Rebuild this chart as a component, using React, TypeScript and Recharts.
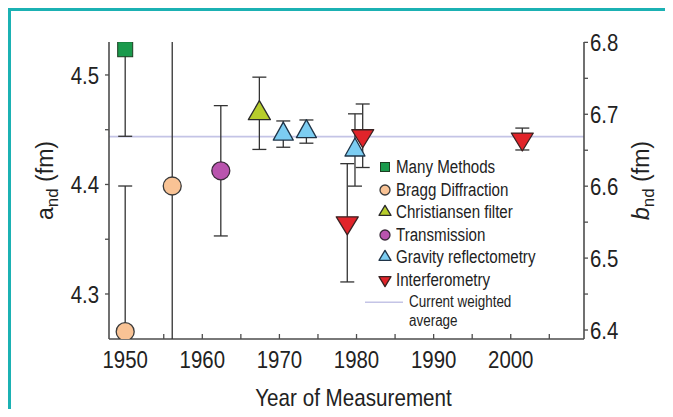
import React from 'react';
import { ComposedChart, Scatter, XAxis, YAxis, ErrorBar, ReferenceLine, Legend } from 'recharts';

const FONT = '"Liberation Sans", Arial, Helvetica, sans-serif';
const INK = '#222';
const AXIS = '#4d4d4d';
const TEAL = '#1bb1b3';

// measurements: year, a_nd (fm), [lower error, upper error]
const manyMethods = [{ year: 1950, a: 4.5235, err: [0.0795, 0.08] }];
const braggDiffraction = [
  { year: 1950, a: 4.2656, err: [0.2, 0.133] },
  { year: 1956.1, a: 4.3986, err: [0.2, 0.2] },
];
const christiansenFilter = [{ year: 1967.4, a: 4.465, err: [0.033, 0.033] }];
const transmission = [{ year: 1962.4, a: 4.4125, err: [0.0595, 0.0595] }];
const gravityReflectometry = [
  { year: 1970.5, a: 4.446, err: [0.012, 0.012] },
  { year: 1973.5, a: 4.4483, err: [0.0106, 0.0106] },
  { year: 1979.8, a: 4.4315, err: [0.033, 0.033] },
];
const interferometry = [
  { year: 1978.8, a: 4.365, err: [0.054, 0.054] },
  { year: 1980.8, a: 4.4445, err: [0.029, 0.029] },
  { year: 2001.5, a: 4.4415, err: [0.01, 0.01] },
];
const weightedAverage = 4.4437;

const yearDomain = [1947.9, 2009.5];
const yearTicks = [1950, 1955, 1960, 1965, 1970, 1975, 1980, 1985, 1990, 1995, 2000, 2005];
const aDomain = [4.2589, 4.5301];
const aTicks = [4.3, 4.35, 4.4, 4.45, 4.5];
const bDomain = [6.3875, 6.8005];
const bTicks = [6.4, 6.45, 6.5, 6.55, 6.6, 6.65, 6.7, 6.75, 6.8];

// plot box inside the svg (for clipping the error bars)
const PLOT = { x: 98, y: 31, w: 475, h: 297 };

type Kind = 'square' | 'circle' | 'up' | 'down';

function Marker({ cx, cy, kind, w, h, fill, stroke }: any) {
  if (kind === 'square') {
    return <rect x={cx - w / 2} y={cy - w / 2} width={w} height={w} fill={fill} stroke={stroke} strokeWidth={1} />;
  }
  if (kind === 'circle') {
    return <circle cx={cx} cy={cy} r={w / 2} fill={fill} stroke={stroke} strokeWidth={1.3} />;
  }
  if (kind === 'up') {
    const pts = `${cx},${cy - (2 * h) / 3} ${cx + w / 2},${cy + h / 3} ${cx - w / 2},${cy + h / 3}`;
    return <polygon points={pts} fill={fill} stroke={stroke} strokeWidth={1.3} strokeLinejoin="round" />;
  }
  const pts = `${cx - w / 2},${cy - h / 3} ${cx + w / 2},${cy - h / 3} ${cx},${cy + (2 * h) / 3}`;
  return <polygon points={pts} fill={fill} stroke={stroke} strokeWidth={1.3} strokeLinejoin="round" />;
}

const series = [
  { name: 'Many Methods', data: manyMethods, kind: 'square' as Kind, fill: '#1a9a4c', stroke: '#1d3d22', w: 15, h: 15, lw: 9, lh: 9 },
  { name: 'Bragg Diffraction', data: braggDiffraction, kind: 'circle' as Kind, fill: '#f9c395', stroke: '#3a3a3a', w: 18, h: 18, lw: 10, lh: 10 },
  { name: 'Christiansen filter', data: christiansenFilter, kind: 'up' as Kind, fill: '#b7cd2c', stroke: '#2a2a2a', w: 22, h: 19, lw: 12, lh: 10 },
  { name: 'Transmission', data: transmission, kind: 'circle' as Kind, fill: '#b954ae', stroke: '#3a2a3a', w: 18, h: 18, lw: 10, lh: 10 },
  { name: 'Gravity reflectometry', data: gravityReflectometry, kind: 'up' as Kind, fill: '#7ccdf2', stroke: '#1f3448', w: 20, h: 18, lw: 12, lh: 10 },
  { name: 'Interferometry', data: interferometry, kind: 'down' as Kind, fill: '#e1242a', stroke: '#3a2222', w: 22, h: 18, lw: 12, lh: 10 },
];

function NText({ x, y, size, sx, anchor, children }: any) {
  return (
    <text transform={`translate(${x},${y}) scale(${sx},1)`} textAnchor={anchor} fontSize={size} fontFamily={FONT} fill={INK}>
      {children}
    </text>
  );
}

const isMajor = (v: number, step: number) => Math.abs(v / step - Math.round(v / step)) < 1e-6;

const XTick = (p: any) => {
  if (!isMajor(p.payload.value, 10)) return <g />;
  return <NText x={p.x} y={p.y + 29} size={24} sx={0.85} anchor="middle">{p.payload.value}</NText>;
};
const LeftTick = (p: any) => {
  if (!isMajor(p.payload.value, 0.1)) return <g />;
  return <NText x={p.x} y={p.y + 8.6} size={24} sx={0.85} anchor="end">{p.payload.value.toFixed(1)}</NText>;
};
const RightTick = (p: any) => {
  if (!isMajor(p.payload.value, 0.1)) return <g />;
  return <NText x={p.x} y={p.y + 8.6} size={24} sx={0.85} anchor="start">{p.payload.value.toFixed(1)}</NText>;
};

const xTitle = (p: any) => {
  const vb = p.viewBox || { x: PLOT.x, y: PLOT.y + PLOT.h, width: PLOT.w, height: 78 };
  return (
    <NText x={vb.x + vb.width / 2 + 7} y={vb.y + 67} size={24} sx={0.86} anchor="middle">
      Year of Measurement
    </NText>
  );
};

function RotTitle({ cx, cy, letter, italic }: any) {
  return (
    <text transform={`translate(${cx},${cy}) rotate(-90)`} y={8} textAnchor="middle" fontSize={23} fontFamily={FONT} fill={INK}>
      <tspan fontStyle={italic ? 'italic' : 'normal'}>{letter}</tspan>
      <tspan fontSize={17} dy={5}>nd</tspan>
      <tspan dy={-5}> (fm)</tspan>
    </text>
  );
}

const leftTitle = (p: any) => {
  const vb = p.viewBox || { x: 0, y: PLOT.y, width: PLOT.x, height: PLOT.h };
  return <RotTitle cx={vb.x + 34} cy={vb.y + vb.height / 2 - 10} letter="a" />;
};
const rightTitle = (p: any) => {
  const vb = p.viewBox || { x: PLOT.x + PLOT.w, y: PLOT.y, width: 89, height: PLOT.h };
  return <RotTitle cx={vb.x + 57} cy={vb.y + vb.height / 2 - 10} letter="b" italic />;
};

function LegendBox() {
  const label = { display: 'inline-block', transform: 'scaleX(0.84)', transformOrigin: 'left center', whiteSpace: 'nowrap' as const };
  return (
    <div style={{ fontFamily: FONT, fontSize: 18, color: INK, lineHeight: '18px' }}>
      {series.map((s) => (
        <div key={s.name} style={{ height: 22.5, display: 'flex', alignItems: 'center' }}>
          <svg width={31} height={22} style={{ flex: 'none' }}>
            <Marker cx={20} cy={11} kind={s.kind} w={s.lw} h={s.lh} fill={s.fill} stroke={s.stroke} />
          </svg>
          <span style={label}>{s.name}</span>
        </div>
      ))}
      <div style={{ display: 'flex', alignItems: 'flex-start' }}>
        <svg width={44} height={22} style={{ flex: 'none' }}>
          <line x1={0} x2={38} y1={11.25} y2={11.25} stroke="#c4c4e6" strokeWidth={1.6} />
        </svg>
        <div style={{ ...label, fontSize: 16, lineHeight: '18.5px', paddingTop: 2 }}>
          <div>Current weighted</div>
          <div>average</div>
        </div>
      </div>
    </div>
  );
}

export default function App() {
  return (
    <div
      style={{
        position: 'relative',
        width: 665,
        height: 409,
        marginBottom: -8,
        boxSizing: 'border-box',
        borderTop: `3px solid ${TEAL}`,
        borderLeft: `3px solid ${TEAL}`,
        background: '#fff',
      }}
    >
      <style>{'[class*="recharts-errorBar"] { clip-path: url(#plotClip); }'}</style>
      <svg width={0} height={0} style={{ position: 'absolute' }}>
        <defs>
          <clipPath id="plotClip" clipPathUnits="userSpaceOnUse">
            <rect x={PLOT.x} y={PLOT.y} width={PLOT.w} height={PLOT.h} />
          </clipPath>
        </defs>
      </svg>
      <ComposedChart width={662} height={406} margin={{ top: 31, right: 0, bottom: 0, left: 0 }}>
        <XAxis
          xAxisId="bottom"
          type="number"
          dataKey="year"
          domain={yearDomain}
          ticks={yearTicks}
          allowDataOverflow
          interval={0}
          height={78}
          tickSize={-5}
          tickMargin={5}
          tick={XTick}
          tickLine={{ stroke: AXIS, strokeWidth: 1.3 }}
          axisLine={{ stroke: AXIS, strokeWidth: 1.6 }}
          label={xTitle}
        />
        <XAxis
          xAxisId="top"
          orientation="top"
          type="number"
          dataKey="year"
          domain={yearDomain}
          ticks={yearTicks}
          allowDataOverflow
          interval={0}
          height={0}
          tickSize={-5}
          tick={() => <g />}
          tickLine={{ stroke: AXIS, strokeWidth: 1.3 }}
          axisLine={{ stroke: AXIS, strokeWidth: 1.6 }}
        />
        <YAxis
          yAxisId="left"
          type="number"
          dataKey="a"
          domain={aDomain}
          ticks={aTicks}
          allowDataOverflow
          interval={0}
          width={98}
          tickSize={4}
          tickMargin={6}
          tick={LeftTick}
          tickLine={{ stroke: AXIS, strokeWidth: 1.3 }}
          axisLine={{ stroke: AXIS, strokeWidth: 1.6 }}
          label={leftTitle}
        />
        <YAxis
          yAxisId="right"
          orientation="right"
          type="number"
          domain={bDomain}
          ticks={bTicks}
          allowDataOverflow
          interval={0}
          width={89}
          tickSize={4}
          tickMargin={2}
          tick={RightTick}
          tickLine={{ stroke: AXIS, strokeWidth: 1.3 }}
          axisLine={{ stroke: AXIS, strokeWidth: 1.6 }}
          label={rightTitle}
        />
        <ReferenceLine xAxisId="bottom" yAxisId="left" y={weightedAverage} stroke="#c4c4e6" strokeWidth={1.6} />
        {/* error bars first, with no symbol, so the markers sit on top of them */}
        {series.map((s) => (
          <Scatter
            key={`${s.name}-err`}
            name={`${s.name} error`}
            data={s.data}
            xAxisId="bottom"
            yAxisId="left"
            isAnimationActive={false}
            shape={() => <g />}
          >
            <ErrorBar dataKey="err" direction="y" width={7} stroke="#333" strokeWidth={1.3} isAnimationActive={false} zIndex={0} />
          </Scatter>
        ))}
        {series.map((s) => (
          <Scatter
            key={s.name}
            name={s.name}
            data={s.data}
            xAxisId="bottom"
            yAxisId="left"
            isAnimationActive={false}
            shape={(p: any) => <Marker cx={p.cx} cy={p.cy} kind={s.kind} w={s.w} h={s.h} fill={s.fill} stroke={s.stroke} />}
          />
        ))}
        <Legend
          layout="vertical"
          align="center"
          verticalAlign="middle"
          wrapperStyle={{ left: 354, top: 145, width: 220 }}
          content={() => <LegendBox />}
        />
      </ComposedChart>
    </div>
  );
}
